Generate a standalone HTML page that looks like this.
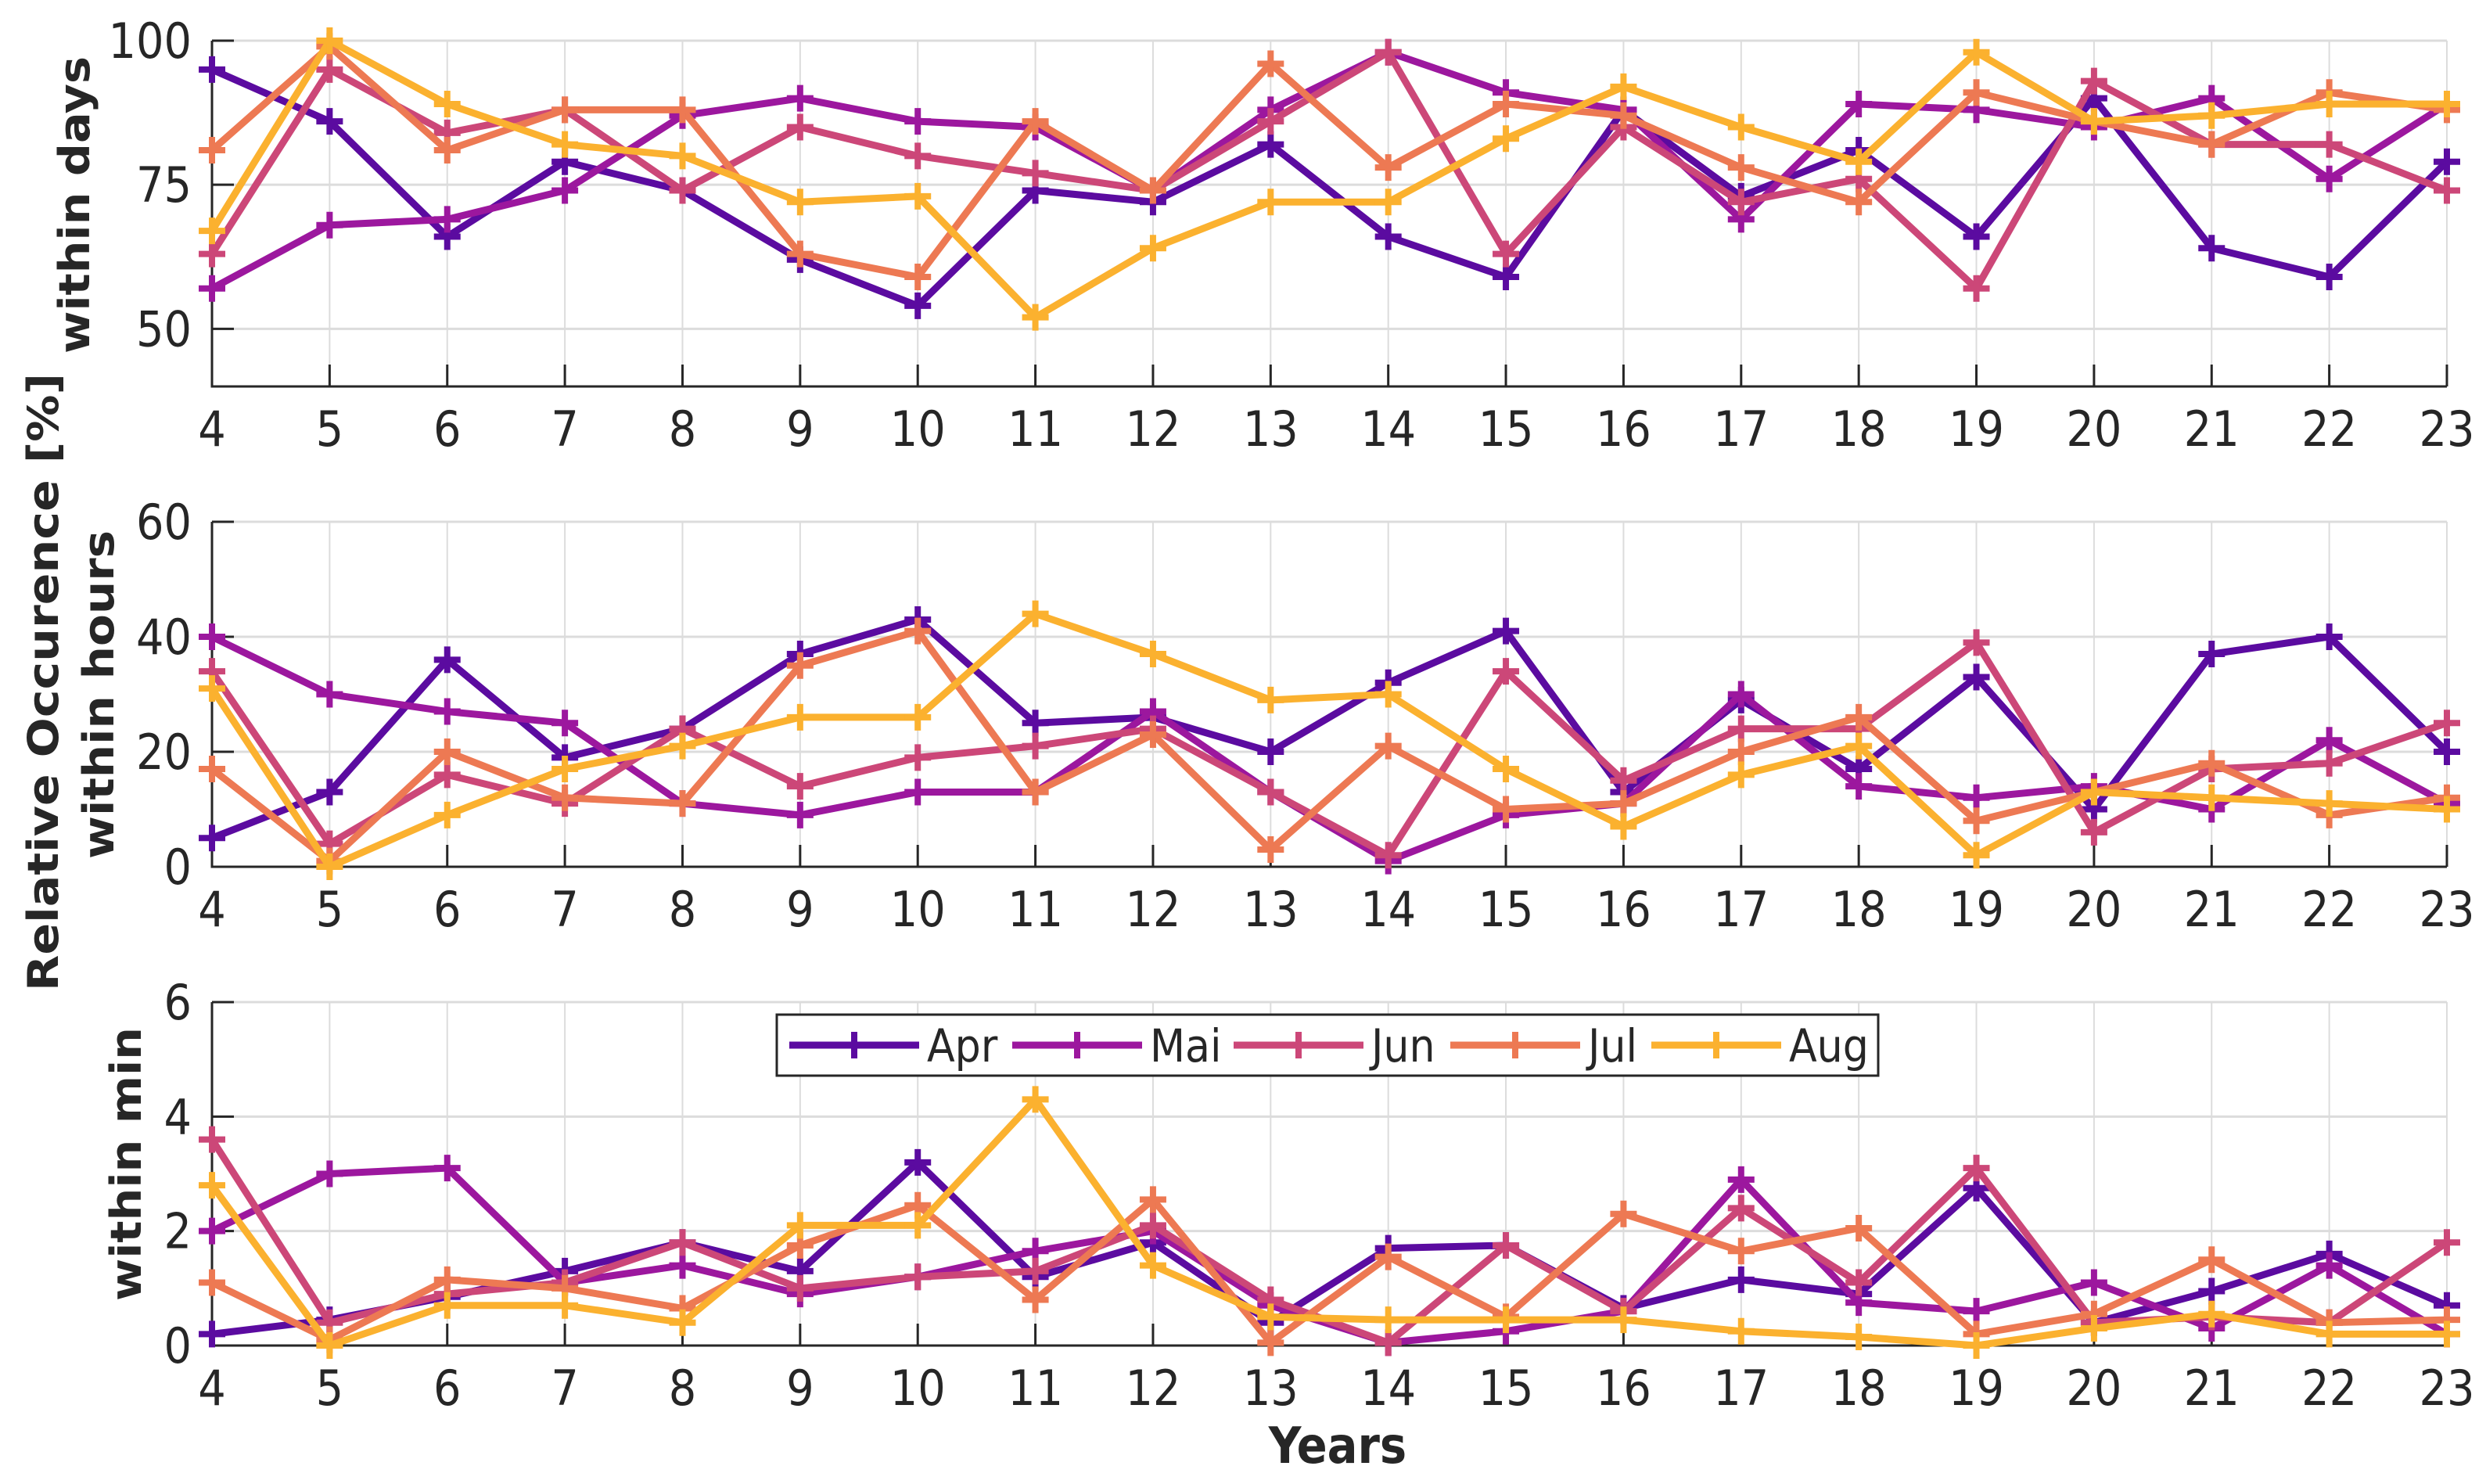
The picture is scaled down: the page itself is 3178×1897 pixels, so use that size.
<!DOCTYPE html>
<html><head><meta charset="utf-8"><style>
html,body{margin:0;padding:0;background:#fff;}
svg{display:block;}
text{font-family:"DejaVu Sans Condensed","DejaVu Sans","Liberation Sans",sans-serif;fill:#262626;}
</style></head><body>
<svg id="chart" xmlns="http://www.w3.org/2000/svg" width="3178" height="1897" viewBox="0 0 3178 1897"></svg>
<script>
const years = [4,5,6,7,8,9,10,11,12,13,14,15,16,17,18,19,20,21,22,23];
const seriesNames = ["Apr","Mai","Jun","Jul","Aug"];
const daysApr = [95,86,66,79,74,62,54,74,72,82,66,59,88,73,81,66,90,64,59,79];
const daysMai = [57,68,69,74,87,90,86,85,74,88,98,91,88,69,89,88,85,90,76,89];
const daysJun = [63,95,84,88,74,85,80,77,74,86,98,63,85,72,76,57,93,82,82,74];
const daysJul = [81,99,81,88,88,63,59,86,74,96,78,89,87,78,72,91,86,82,91,88];
const daysAug = [67,100,89,82,80,72,73,52,64,72,72,83,92,85,79,98,86,87,89,89];
const hoursApr = [5,13,36,19,24,37,43,25,26,20,32,41,13,29,17,33,10,37,40,20];
const hoursMai = [40,30,27,25,11,9,13,13,27,13,1,9,11,30,14,12,14,10,22,11];
const hoursJun = [34,4,16,11,24,14,19,21,24,13,2,34,15,24,24,39,6,17,18,25];
const hoursJul = [17,1,20,12,11,35,41,13,23,3,21,10,11,20,26,8,13,18,9,12];
const hoursAug = [31,0,9,17,21,26,26,44,37,29,30,17,7,16,21,2,13,12,11,10];
const minApr = [0.2,0.45,0.85,1.3,1.8,1.3,3.2,1.2,1.8,0.4,1.7,1.75,0.65,1.15,0.9,2.75,0.4,0.95,1.6,0.7];
const minMai = [2.0,3.0,3.1,1.1,1.4,0.9,1.2,1.65,2.0,0.7,0.05,0.25,0.6,2.9,0.75,0.6,1.1,0.3,1.4,0.2];
const minJun = [3.6,0.4,0.9,1.1,1.8,1.0,1.2,1.3,2.1,0.8,0.05,1.75,0.6,2.4,1.1,3.1,0.4,0.5,0.4,1.8];
const minJul = [1.1,0.1,1.15,1.0,0.65,1.75,2.45,0.8,2.55,0.05,1.55,0.5,2.3,1.65,2.05,0.2,0.55,1.5,0.4,0.45];
const minAug = [2.8,0,0.7,0.7,0.4,2.1,2.1,4.3,1.4,0.5,0.45,0.45,0.45,0.25,0.15,0,0.3,0.55,0.2,0.2];
const daysTicks = [50,75,100];
const hoursTicks = [0,20,40,60];
const minTicks = [0,2,4,6];

const colors = ["#5b0ba0","#9c179e","#cc4778","#ed7953","#fbb12f"];
const NS = "http://www.w3.org/2000/svg";
const svg = document.getElementById("chart");
const X0 = 271, X1 = 3128;
function xs(v){ return X0 + (v - 4) / 19 * (X1 - X0); }
function mk(tag, attrs, parent){
  const e = document.createElementNS(NS, tag);
  for (const k in attrs) e.setAttribute(k, attrs[k]);
  (parent || svg).appendChild(e);
  return e;
}
const panels = [
  {key:"days", top:52, bot:494, min:40, max:100, ticks:daysTicks, data:[daysApr,daysMai,daysJun,daysJul,daysAug]},
  {key:"hours", top:667, bot:1108, min:0, max:60, ticks:hoursTicks, data:[hoursApr,hoursMai,hoursJun,hoursJul,hoursAug]},
  {key:"min", top:1281, bot:1720, min:0, max:6, ticks:minTicks, data:[minApr,minMai,minJun,minJul,minAug]}
];
panels.forEach(p => {
  const ys = v => p.bot - (v - p.min) / (p.max - p.min) * (p.bot - p.top);
  const g = mk("g", {});
  
  
  years.forEach(y => {
    const l = mk("line", {x1:xs(y), x2:xs(y), y1:p.top, y2:p.bot, stroke:"#dcdcdc", "stroke-width":2}, g);
    
    
  });
  p.ticks.forEach(t => {
    const l = mk("line", {x1:X0, x2:X1, y1:ys(t), y2:ys(t), stroke:"#dcdcdc", "stroke-width":3}, g);
    
    
  });
  const ax = mk("path", {d:`M${X0},${p.top} L${X0},${p.bot} L${X1},${p.bot}`, fill:"none", stroke:"#262626", "stroke-width":3}, g);
  
  
  years.forEach(y => {
    const t = mk("line", {x1:xs(y), x2:xs(y), y1:p.bot, y2:p.bot-28, stroke:"#262626", "stroke-width":3}, g);
    
    
    const tx = mk("text", {x:xs(y), y:p.bot+76, "font-size":62, "text-anchor":"middle"}, g);
    
    
    tx.textContent = y;
  });
  p.ticks.forEach(t => {
    const tk = mk("line", {x1:X0, x2:X0+28, y1:ys(t), y2:ys(t), stroke:"#262626", "stroke-width":3}, g);
    
    
    const tx = mk("text", {x:245, y:ys(t)+22, "font-size":62, "text-anchor":"end"}, g);
    
    
    tx.textContent = t;
  });
  p.data.forEach((arr, si) => {
    const pts = arr.map((v,i) => xs(years[i]) + "," + ys(v)).join(" ");
    const pl = mk("polyline", {points:pts, fill:"none", stroke:colors[si], "stroke-width":9, "stroke-linejoin":"round"}, g);
    
    
    arr.forEach((v,i) => {
      const cx = xs(years[i]), cy = ys(v);
      const m = mk("path", {d:`M${cx-17},${cy} H${cx+17} M${cx},${cy-17} V${cy+17}`, stroke:colors[si], "stroke-width":8, fill:"none"}, g);
      
      
    });
  });
});
function vtext(name, txt, x, cy, len){
  const t = mk("text", {x:0, y:0, "font-size":54, "font-weight":"bold", "text-anchor":"middle", transform:`translate(${x},${cy}) rotate(-90)`, textLength:len, lengthAdjust:"spacingAndGlyphs"});
  
  
  t.textContent = txt;
}
vtext('y-axis-title-days', 'within days', 114, 262, 380);
vtext('y-axis-title-main', 'Relative Occurence [%]', 74, 872, 790);
vtext('y-axis-title-hours', 'within hours', 145, 888, 420);
vtext('y-axis-title-min', 'within min', 180, 1488, 350);
const xt = mk("text", {x:1710, y:1870, "font-size":64, "font-weight":"bold", "text-anchor":"middle"});


xt.textContent = "Years";
const lg = mk("g", {});


const lb = mk("rect", {x:993, y:1297, width:1408, height:78, fill:"#fff", stroke:"#262626", "stroke-width":3}, lg);


const legX = [1009, 1294, 1577, 1854, 2111];
seriesNames.forEach((n, i) => {
  const e = mk("g", {}, lg);
  
  
  const x = legX[i], y = 1336;
  mk("line", {x1:x, x2:x+166, y1:y, y2:y, stroke:colors[i], "stroke-width":9}, e);
  mk("path", {d:`M${x+66},${y} H${x+100} M${x+83},${y-17} V${y+17}`, stroke:colors[i], "stroke-width":8}, e);
  const t = mk("text", {x:x+176, y:y+21, "font-size":58, fill:"#000"}, e);
  t.textContent = n;
});
</script>
</body></html>
